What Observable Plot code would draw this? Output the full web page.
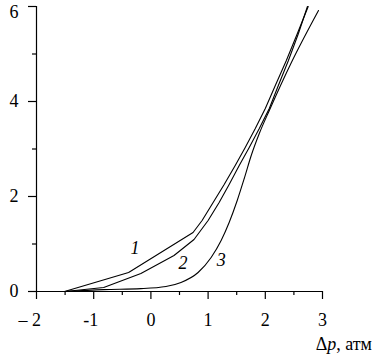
<!DOCTYPE html>
<html><head><meta charset="utf-8">
<style>
body{margin:0;padding:0;background:#fff;font-family:"Liberation Serif",serif;}
#chart{position:relative;width:375px;height:358px;font-family:"Liberation Serif",serif;}
#xtitle{position:absolute;right:3px;top:334px;font-size:18px;font-family:"Liberation Serif",serif;color:#000;white-space:nowrap;}
</style>
<script src="https://cdn.jsdelivr.net/npm/d3@7"></script>
<script src="https://cdn.jsdelivr.net/npm/@observablehq/plot@0.6"></script>
</head><body>
<div id="chart"><div id="xtitle">Δ<i>p</i>, атм</div></div>
<script>
// Curve data: [Δp (atm), value]
const curve1 = [[-1.51,0],[-0.39,0.40],[0.737,1.242],[0.895,1.495],[1.088,1.874],[1.281,2.253],[1.474,2.653],[1.649,3.032],[1.825,3.432],[2.0,3.853],[2.175,4.337],[2.368,4.863],[2.561,5.432],[2.75,6.0]];
const curve2 = [[-1.5,0],[-0.825,0.084],[-0.175,0.379],[0.404,0.758],[0.754,1.095],[1.0,1.495],[1.193,1.874],[1.368,2.253],[1.544,2.653],[1.719,3.032],[1.895,3.432],[2.07,3.853],[2.228,4.337],[2.404,4.863],[2.579,5.432],[2.737,6.0]];
const curve3 = [[-1.5,0],[-0.825,0.04],[-0.175,0.06],[0.263,0.105],[0.526,0.19],[0.825,0.40],[1.053,0.716],[1.228,1.074],[1.368,1.453],[1.509,1.916],[1.632,2.379],[1.754,2.863],[1.895,3.326],[2.07,3.811],[2.456,4.821],[2.93,5.916]];
const curveLabels = [{x: -0.28, y: 0.92, t: "1"}, {x: 0.56, y: 0.6, t: "2"}, {x: 1.23, y: 0.65, t: "3"}];
const xMajor = [-2,-1,0,1,2,3];
const xMinor = [-1.5,-0.5,0.5,1.5,2.5];
const xTickLabels = ["– 2","-1","0","1","2","3"];
const yMajor = [0,2,4];
const yTop = [6];
const yMinor = [1,3,5];
const yTickLabels = ["0","2","4"];
const yTopLabel = ["6"];

const series12 = [curve1, curve2].flatMap((c, i) => c.map(([x, y]) => ({x, y, s: i + 1})));
const series3 = curve3.map(([x, y]) => ({x, y, s: 3}));
const font = "serif";

const chart = Plot.plot({
  width: 375, height: 358,
  marginLeft: 36, marginRight: 53, marginTop: 6, marginBottom: 67,
  x: {domain: [-2, 3]},
  y: {domain: [0, 6]},
  style: {color: "black", background: "white", overflow: "visible", fontFamily: "serif"},
  marks: [
    Plot.ruleY([0], {stroke: "black", strokeWidth: 1.2}),
    Plot.ruleX([-2], {stroke: "black", strokeWidth: 1.2}),
    Plot.axisX(xMajor, {tickSize: 8, tickFormat: () => "", label: null, strokeWidth: 1.2}),
    Plot.axisX(xMinor, {tickSize: 4, tickFormat: () => "", label: null, strokeWidth: 1.2}),
    Plot.axisY(yMajor.concat(yTop), {tickSize: 8, tickFormat: () => "", label: null, strokeWidth: 1.2}),
    Plot.axisY(yMinor, {tickSize: 4, tickFormat: () => "", label: null, strokeWidth: 1.2}),
    Plot.text(xMajor, {x: d => d, y: () => 0, text: (d, i) => xTickLabels[i], dy: 29, dx: 4.5, textAnchor: "end", fontSize: 18, fontFamily: font, fill: "black"}),
    Plot.text(yMajor, {x: () => -2, y: d => d, text: (d, i) => yTickLabels[i], dx: -18, textAnchor: "end", fontSize: 18, fontFamily: font, fill: "black"}),
    Plot.text(yTop, {x: () => -2, y: d => d, text: (d, i) => yTopLabel[i], dx: -18, dy: -1, lineAnchor: "top", textAnchor: "end", fontSize: 18, fontFamily: font, fill: "black"}),
    Plot.line(series12, {x: "x", y: "y", z: "s", stroke: "black", strokeWidth: 1.1, curve: "linear"}),
    Plot.line(series3, {x: "x", y: "y", z: "s", stroke: "black", strokeWidth: 1.1, curve: "monotone-x"}),
    Plot.text(curveLabels, {x: "x", y: "y", text: "t", fontSize: 18, fontStyle: "italic", fontFamily: font, fill: "black"})
  ]
});
document.getElementById("chart").appendChild(chart);
</script>
</body></html>
